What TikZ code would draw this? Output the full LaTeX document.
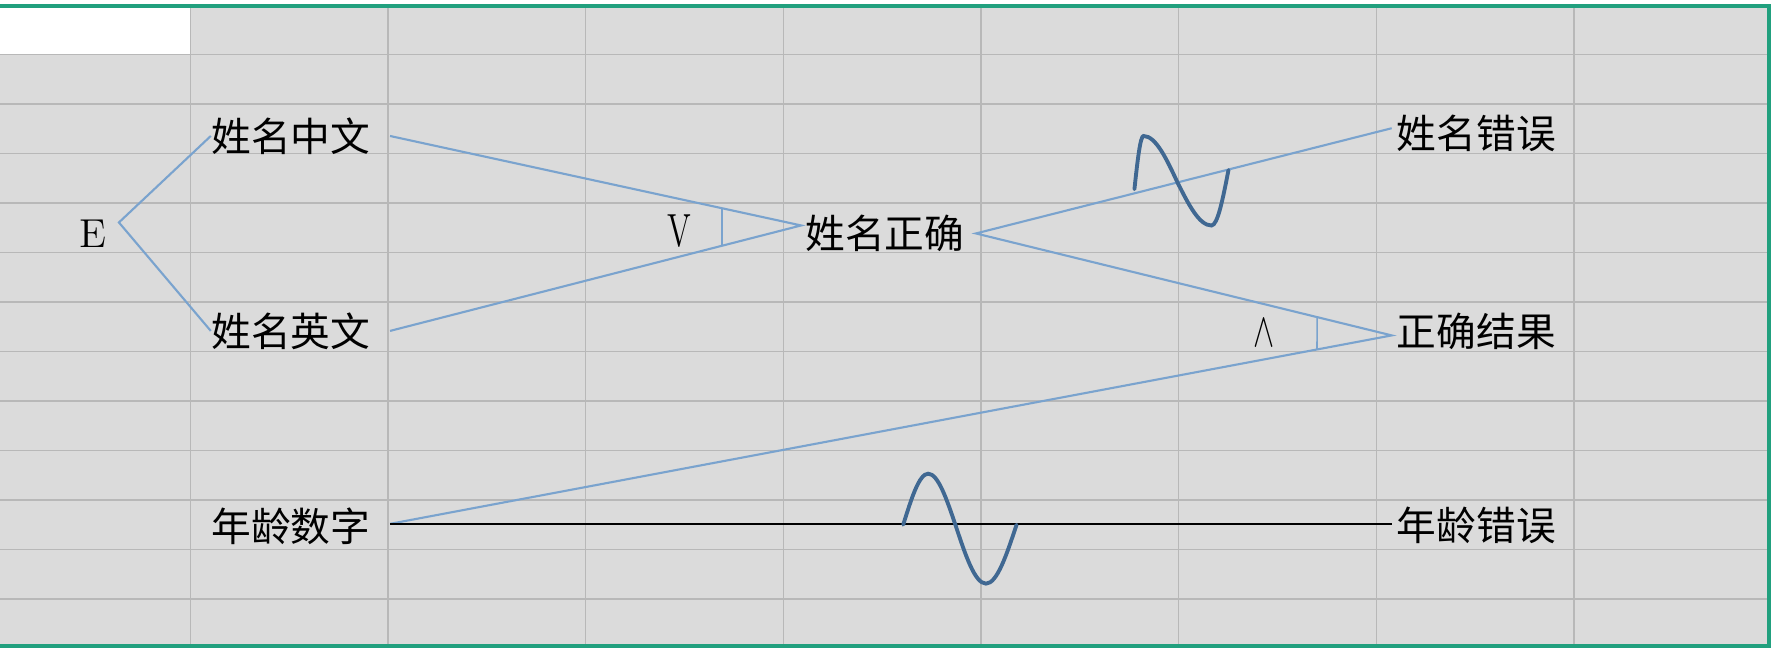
\documentclass[tikz,border=0pt]{standalone}
\usepackage{fontspec}
\usepackage{tikz}
\usetikzlibrary{positioning, calc}
\newfontfamily\cjk{Noto Sans CJK SC}
\definecolor{cSheet}{RGB}{219,219,219}
\definecolor{cGrid}{RGB}{184,184,184}
\definecolor{cFrame}{RGB}{33,160,126}
\definecolor{cLink}{RGB}{122,163,206}
\definecolor{cWave}{RGB}{64,104,146}
\tikzset{
    cell/.style    ={anchor=west, inner sep=0pt, font=\cjk\fontsize{11.3}{13}\selectfont},
    sym/.style     ={inner sep=0pt, font=\fontsize{11.5}{13}\selectfont},
    gridline/.style={cGrid, line width=0.4pt},
    link/.style    ={cLink, line width=0.6pt},
    wave/.style    ={cWave, line width=1.1pt, line cap=round},
}

\begin{document}
\begin{tikzpicture}[x=0.11333mm, y=-0.11333mm]
    \useasboundingbox (0,0) rectangle (1568,572);
    \fill[white] (0,0) rectangle (1568,572);
    \fill[cSheet] (0,5.3) rectangle (1561,570);
    \fill[white] (0,5.3) rectangle (168,48);
    \foreach \i in {0,...,7}
        \draw[gridline] ({168+174.4*\i},5.3) -- ({168+174.4*\i},570);
    \foreach \j in {0,...,11}
        \draw[gridline] (0,{48+43.7*\j}) -- (1561,{48+43.7*\j});
    \draw[cFrame, line width=0.9pt] (0,5.3) -- (1561,5.3) -- (1561,570) -- (0,570);

    \node[sym] (e) at (82,206) {E};
    \node[cell] (cn) at (186,120) {姓名中文};
    \node[cell] (en) at (186,292) {姓名英文};
    \node[cell] (ok) at (710,206) {姓名正确};
    \node[cell] (nerr) at (1232,118) {姓名错误};
    \node[cell] (res) at (1232,292) {正确结果};
    \node[cell] (age) at (186,464) {年龄数字};
    \node[cell] (aerr) at (1232,464) {年龄错误};

    \coordinate (ev) at ([shift={(2.6mm,1.1mm)}]e.center);
    \coordinate (cnr) at ([xshift=1.9mm]cn.east);
    \coordinate (enr) at ([xshift=1.9mm]en.east);
    \coordinate (okl) at ([shift={(-0.35mm,0.8mm)}]ok.west);
    \coordinate (okr) at ([xshift=1.1mm]ok.east);
    \coordinate (nerrl) at ([shift={(-0.45mm,0.55mm)}]nerr.west);
    \coordinate (resl) at ([shift={(-0.45mm,-0.45mm)}]res.west);
    \coordinate (ager) at ([shift={(1.9mm,0.2mm)}]age.east);
    \coordinate (aerrl) at ([shift={(-0.45mm,0.2mm)}]aerr.west);

    \draw[link] (cn.west) -- (ev) -- (en.west);
    \draw[link] (cnr) -- (okl) -- (enr);
    \draw[link] (nerrl) -- (okr) -- (resl) -- (ager);
    \draw[black, line width=0.6pt] (ager) -- (aerrl);

    \draw[link, line width=0.45pt] ($(cnr)!0.808!(okl)$) coordinate (v1) -- ($(enr)!0.808!(okl)$) coordinate (v2);
    \draw[link, line width=0.45pt] ($(okr)!0.8207!(resl)$) coordinate (w1) -- ($(ager)!0.9254!(resl)$) coordinate (w2);
    \node[sym, left=3mm of $(v1)!0.5!(v2)$, yshift=-0.4mm] (vlbl) {\scalebox{0.8}[1.15]{V}};
    \node[sym, left=4.2mm of $(w1)!0.5!(w2)$] (wlbl) {\scalebox{0.75}[1.15]{$\wedge$}};

    \draw[wave] (1001,167) sin (1009,120) cos (1039,161) sin (1069,199) cos (1084,150);
    \draw[wave] (797,463) sin (819,418) cos (843,463) sin (870,515) cos (897,463);
\end{tikzpicture}
\end{document}
